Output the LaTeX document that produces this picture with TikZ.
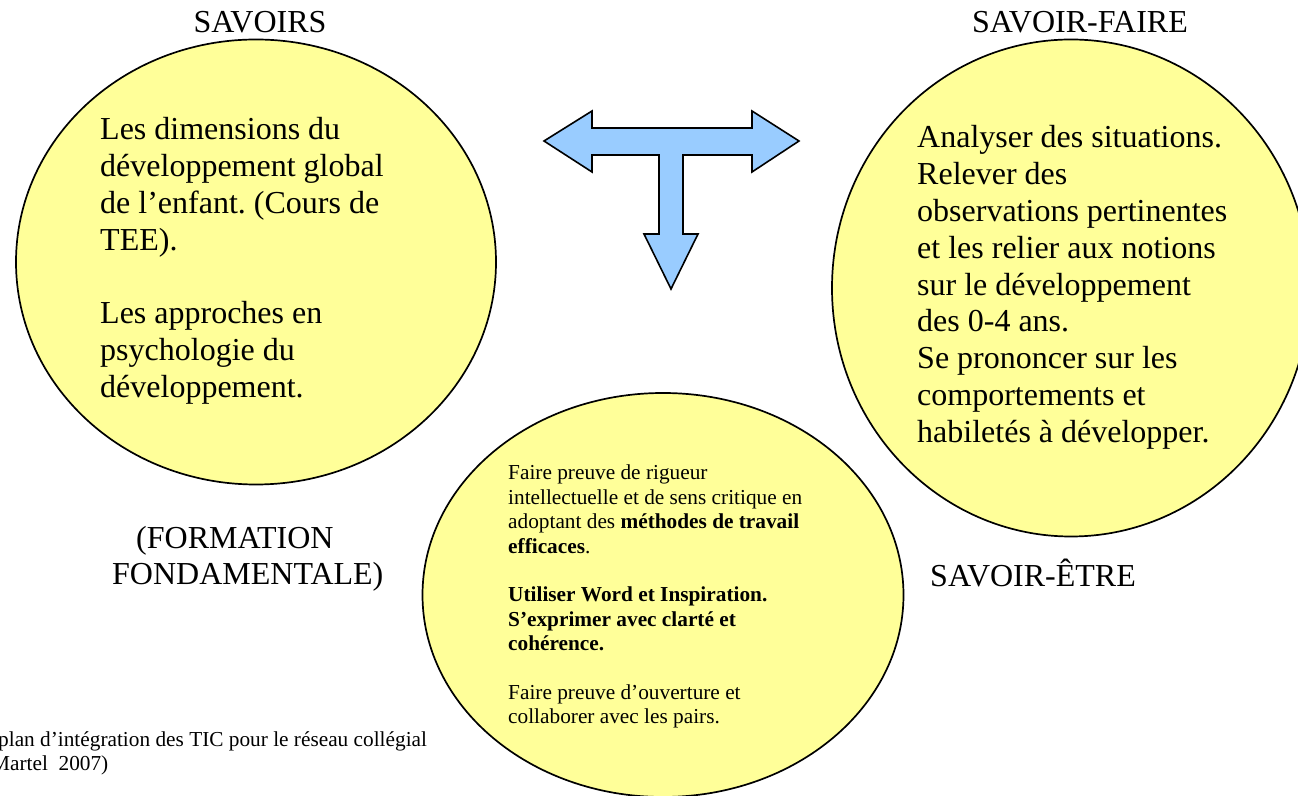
\documentclass[tikz,border=0pt]{standalone}
\usepackage{fontspec}
\setmainfont{Liberation Serif}
\usetikzlibrary{shapes.geometric}
\definecolor{circyellow}{HTML}{FFFF99}
\definecolor{arrowblue}{HTML}{99CCFF}
\frenchspacing

\begin{document}
\begin{tikzpicture}[x=1pt,y=1pt,
    circ/.style={ellipse, draw=black, line width=1.7pt, fill=circyellow, inner sep=0pt},
    title/.style={font=\fontsize{32}{36.8}\selectfont, inner sep=0pt},
    big/.style={font=\fontsize{32}{36.8}\selectfont, align=left, anchor=base west, inner sep=0pt},
    small/.style={font=\fontsize{21.3}{24.4}\selectfont, align=left, anchor=base west, inner sep=0pt}]

    % Fix the page size
    \clip (0,0) rectangle (1298,795);

    % Add the circles
    \node[circ, minimum width=480pt, minimum height=445pt] (savoirs) at (256,533) {};
    \node[circ, minimum width=478pt, minimum height=497pt] (faire) at (1071,507) {};
    \node[circ, minimum width=481pt, minimum height=404pt] (etre) at (663,200) {};

    % Add the titles
    \node[title, anchor=base] (tsavoirs) at (260,762) {SAVOIRS};
    \node[title, anchor=base] (tfaire) at (1080,762) {SAVOIR-FAIRE};
    \node[title, anchor=base west] (tetre) at (930,208) {SAVOIR-ÊTRE};
    \node[big] (formation) at (112,210) {\hspace*{24pt}(FORMATION\\FONDAMENTALE)};

    % Add the texts inside the circles (anchored on their last line)
    \node[big] (txtsavoirs) at (100,397.4)
      {Les dimensions du\\développement global\\de l’enfant. (Cours de\\TEE).\\[36.8pt]%
       Les approches en\\psychologie du\\développement.};
    \node[big] (txtfaire) at (917,352.6)
      {Analyser des situations.\\Relever des\\observations pertinentes\\et les relier aux notions\\%
       sur le développement\\des 0-4 ans.\\Se prononcer sur les\\comportements et\\habiletés à développer.};
    \node[small] (txtetre) at (508,71)
      {Faire preuve de rigueur\\intellectuelle et de sens critique en\\adoptant des \textbf{méthodes de travail}\\%
       \textbf{efficaces}.\\[24.4pt]%
       \textbf{Utiliser Word et Inspiration.}\\\textbf{S’exprimer avec clarté et}\\\textbf{cohérence.}\\[24.4pt]%
       Faire preuve d’ouverture et\\collaborer avec les pairs.};

    % Add the source
    \node[small] (source) at (-9,24.3)
      {\hspace*{7pt}plan d’intégration des TIC pour le réseau collégial\\Martel\ \ 2007)};

    % Add the three-way arrow
    \draw[line width=1.6pt, line join=miter, fill=arrowblue]
      (544,654) -- (592,684) -- (592,667) -- (752,667) -- (752,684) -- (799,654)
      -- (752,623) -- (752,640) -- (683,640) -- (683,561) -- (698,561) -- (671,506)
      -- (644,561) -- (659,561) -- (659,640) -- (592,640) -- (592,623) -- cycle;

\end{tikzpicture}
\end{document}
